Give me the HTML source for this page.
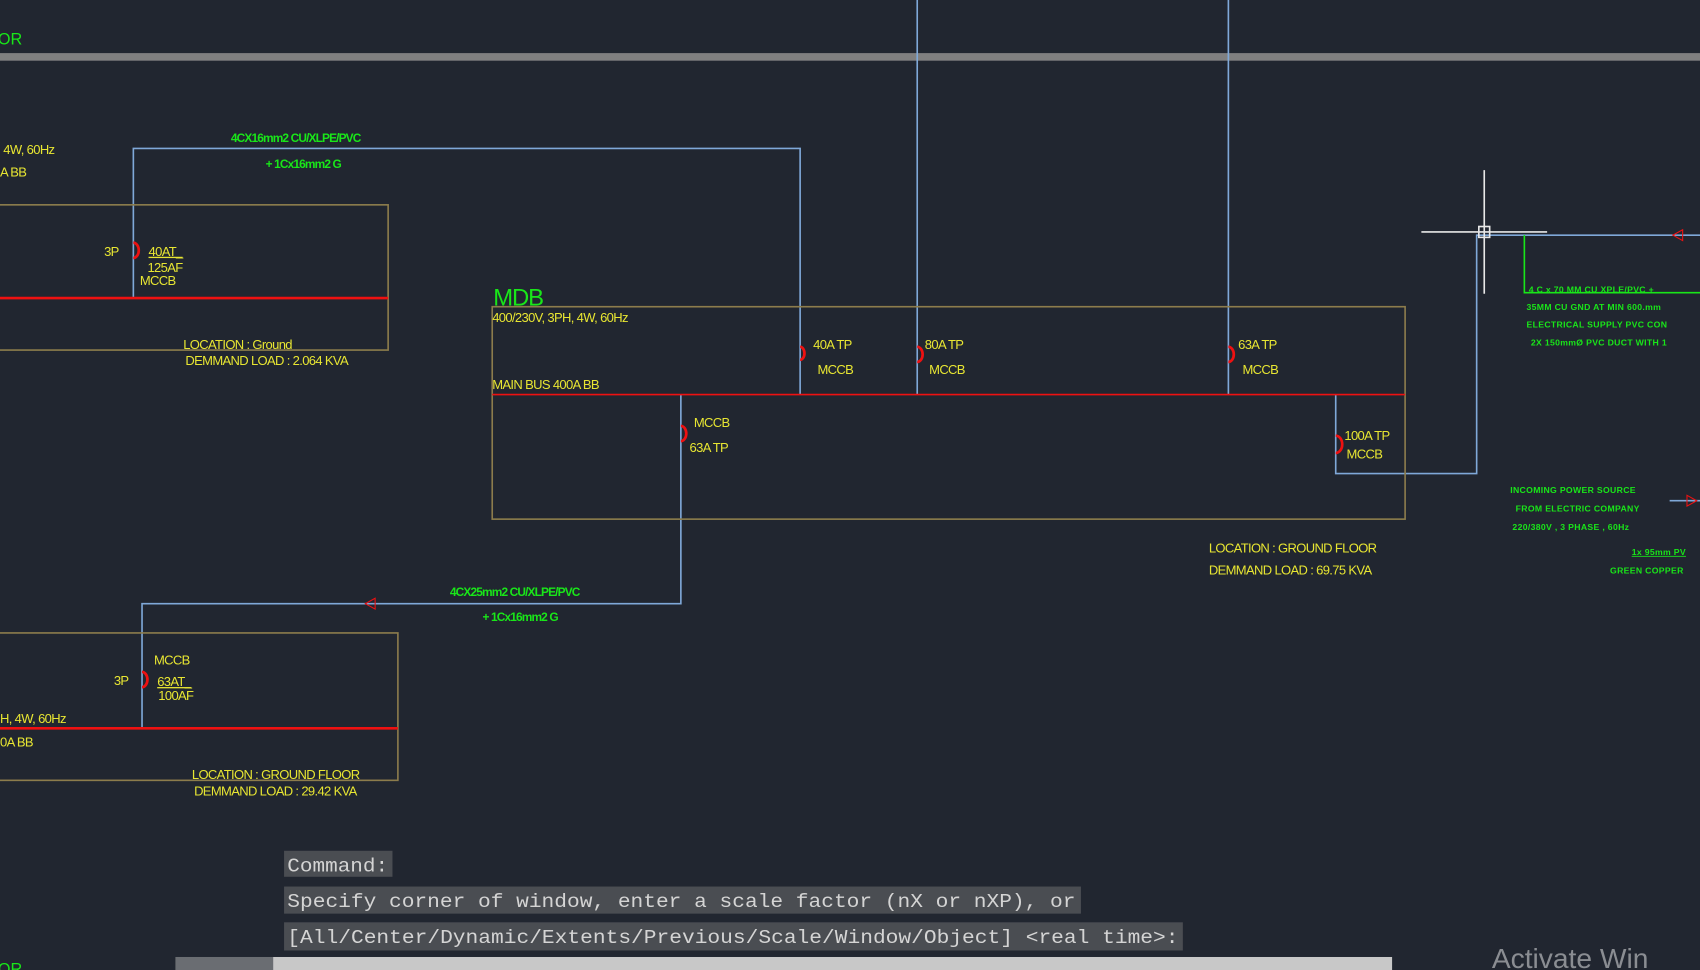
<!DOCTYPE html>
<html><head><meta charset="utf-8"><style>
html,body{margin:0;padding:0;background:#212630;overflow:hidden}
svg{display:block}
.y{fill:#e8e632;font-family:"Liberation Sans",sans-serif;font-size:12px;letter-spacing:-0.6px}
.g{fill:#19e619;font-family:"Liberation Sans",sans-serif;font-size:11px;font-weight:bold;letter-spacing:-0.8px}
.gs{fill:#19e619;font-family:"Liberation Sans",sans-serif;font-size:8px;font-weight:bold;letter-spacing:0.3px}
.m{fill:#d4d4d4;font-family:"Liberation Mono","DejaVu Sans Mono",monospace;font-size:18px}
</style></head><body>
<svg width="1700" height="970" viewBox="0 0 1568 895" preserveAspectRatio="none" xmlns="http://www.w3.org/2000/svg">
<rect width="1568" height="895" fill="#212630"/>
<text x="-2" y="41" fill="#19e619" font-family="Liberation Sans" font-size="15">OR</text>
<rect x="0" y="49" width="1568" height="7" fill="#808080"/>
<g fill="none" stroke="#7fa8d8" stroke-width="1.5">
<path d="M846 0V364M1133 0V364"/>
<path d="M123 275V137H738V364"/>
<path d="M628 364V557H131V672"/>
<path d="M1232 364V437H1362V217H1568"/>
<path d="M1540 462H1568"/>
</g>
<g fill="none" stroke="#8c7c4c" stroke-width="1.5">
<rect x="-5" y="189" width="363" height="134"/>
<rect x="454" y="283" width="842" height="196"/>
<rect x="-5" y="584" width="372" height="136"/>
</g>
<g stroke="#ee1111" stroke-width="2.5">
<path d="M0 275H358"/><path d="M0 672H367"/>
</g>
<path d="M454 364H1296" stroke="#ee1111" stroke-width="1.5"/>
<g fill="none" stroke="#ee1111" stroke-width="2.5">
<path d="M123 224a5 7 0 0 1 0 14"/>
<path d="M738 320a4 6 0 0 1 0 12"/>
<path d="M846 320a5 7 0 0 1 0 14"/>
<path d="M1133 320a5 7 0 0 1 0 14"/>
<path d="M628 393a5 7 0 0 1 0 14"/>
<path d="M131 620a5 7 0 0 1 0 14"/>
<path d="M1232 402a6 8 0 0 1 0 16"/>
<path d="M346 552L337 557L346 562Z" stroke-width="1"/>
<path d="M1552 212L1543 217L1552 222Z" stroke-width="1"/>
<path d="M1556 457L1565 462L1556 467Z" stroke-width="1"/>
</g>
<g stroke="#e8e8e8" stroke-width="1.5" fill="none">
<path d="M1369 157V271M1311 214H1427"/>
<rect x="1364" y="209" width="10" height="10"/>
</g>
<path d="M1406 217V270H1568" stroke="#19e619" stroke-width="1.5" fill="none"/>
<text class="y" x="3" y="142">4W, 60Hz</text>
<text class="y" x="0" y="163">A BB</text>
<text class="g" x="213" y="131">4CX16mm2 CU/XLPE/PVC</text>
<text class="g" x="245" y="155">+ 1Cx16mm2 G</text>
<text class="y" x="96" y="236">3P</text>
<text class="y" x="137" y="236" text-decoration="underline">40AT_</text>
<text class="y" x="136" y="251">125AF</text>
<text class="y" x="129" y="263">MCCB</text>
<text class="y" x="169" y="322">LOCATION : Ground</text>
<text class="y" x="171" y="337">DEMMAND LOAD : 2.064  KVA</text>
<text x="455" y="282" fill="#19e619" font-family="Liberation Sans" font-size="22" letter-spacing="-1">MDB</text>
<text class="y" x="454" y="297">400/230V, 3PH, 4W, 60Hz</text>
<text class="y" x="454" y="359">MAIN BUS 400A BB</text>
<text class="y" x="750" y="322">40A TP</text><text class="y" x="754" y="345">MCCB</text>
<text class="y" x="853" y="322">80A TP</text><text class="y" x="857" y="345">MCCB</text>
<text class="y" x="1142" y="322">63A TP</text><text class="y" x="1146" y="345">MCCB</text>
<text class="y" x="640" y="394">MCCB</text><text class="y" x="636" y="417">63A TP</text>
<text class="y" x="1240" y="406">100A TP</text><text class="y" x="1242" y="423">MCCB</text>
<text class="y" x="1115" y="510">LOCATION : GROUND FLOOR</text>
<text class="y" x="1115" y="530">DEMMAND LOAD : 69.75  KVA</text>
<text class="g" x="415" y="550">4CX25mm2 CU/XLPE/PVC</text>
<text class="g" x="445" y="573">+ 1Cx16mm2 G</text>
<text class="y" x="142" y="613">MCCB</text>
<text class="y" x="105" y="632">3P</text>
<text class="y" x="145" y="633" text-decoration="underline">63AT_</text>
<text class="y" x="146" y="646">100AF</text>
<text class="y" x="0" y="667">H, 4W, 60Hz</text>
<text class="y" x="0" y="689">0A BB</text>
<text class="y" x="177" y="719">LOCATION : GROUND FLOOR</text>
<text class="y" x="179" y="734">DEMMAND LOAD : 29.42  KVA</text>
<text class="gs" x="1410" y="270">4 C x 70 MM CU XPLE/PVC +</text>
<text class="gs" x="1408" y="286">35MM CU GND AT MIN 600.mm</text>
<text class="gs" x="1408" y="302">ELECTRICAL SUPPLY PVC CON</text>
<text class="gs" x="1412" y="319">2X 150mmØ PVC DUCT WITH 1</text>
<text class="gs" x="1393" y="455">INCOMING POWER SOURCE</text>
<text class="gs" x="1398" y="472">FROM ELECTRIC COMPANY</text>
<text class="gs" x="1395" y="489">220/380V , 3 PHASE , 60Hz</text>
<text class="gs" x="1505" y="512" text-decoration="underline">1x 95mm PV</text>
<text class="gs" x="1485" y="529">GREEN COPPER</text>
<rect x="262" y="785" width="100" height="24" fill="#4a4d52"/>
<rect x="262" y="818" width="735" height="25" fill="#4a4d52"/>
<rect x="262" y="851" width="829" height="26" fill="#4a4d52"/>
<text class="m" x="265" y="804" textLength="93" lengthAdjust="spacingAndGlyphs">Command:</text>
<text class="m" x="265" y="837" textLength="727" lengthAdjust="spacingAndGlyphs">Specify corner of window, enter a scale factor (nX or nXP), or</text>
<text class="m" x="265" y="870" textLength="822" lengthAdjust="spacingAndGlyphs">[All/Center/Dynamic/Extents/Previous/Scale/Window/Object] &lt;real time&gt;:</text>
<rect x="162" y="883" width="1122" height="12" fill="#c8c8c8"/>
<rect x="162" y="883" width="90" height="12" fill="#6a6d72"/>
<text x="1376" y="893" fill="#8a8d92" font-family="Liberation Sans" font-size="26">Activate Win</text>
<text x="-2" y="899" fill="#19e619" font-family="Liberation Sans" font-size="15">OR</text>
</svg>
</body></html>
